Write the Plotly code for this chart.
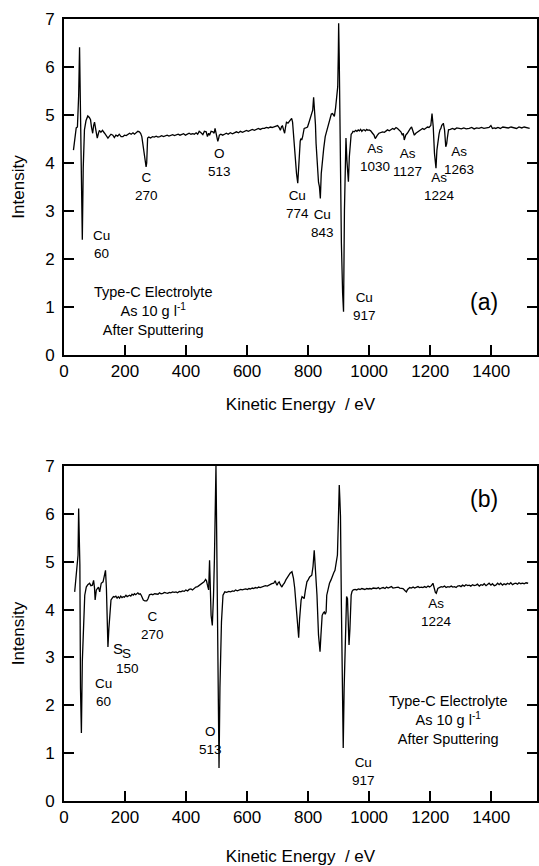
import plotly.graph_objects as go

# ---------------- data ----------------
energy_a = [31, 36, 40, 44, 48, 51, 54, 57, 60, 63, 67, 72, 78, 83, 87, 90, 94, 97, 100, 104, 109, 113, 116, 121, 126, 133, 138, 144, 149, 154, 160, 165, 170, 176, 181, 187, 193, 198, 204, 209, 215, 220, 226, 231, 237, 242, 247, 251, 255, 258, 261, 265, 269, 271, 274, 278, 284, 290, 296, 302, 308, 314, 320, 326, 332, 338, 344, 350, 356, 362, 368, 374, 380, 386, 392, 398, 404, 410, 416, 422, 427, 433, 438, 443, 449, 455, 460, 466, 470, 474, 477, 482, 488, 492, 495, 498, 500, 504, 507, 509, 514, 520, 526, 532, 538, 545, 552, 558, 565, 572, 578, 585, 591, 598, 604, 611, 617, 624, 630, 637, 643, 650, 657, 663, 670, 676, 682, 689, 695, 700, 705, 709, 713, 716, 720, 723, 726, 729, 734, 738, 742, 746, 749, 752, 755, 758, 762, 766, 769, 771, 774, 776, 779, 782, 787, 792, 798, 803, 809, 815, 818, 820, 822, 824, 826, 831, 834, 837, 840, 843, 847, 851, 856, 860, 864, 868, 872, 876, 880, 883, 886, 890, 893, 897, 899, 900, 902, 905, 909, 913, 916, 919, 922, 924, 927, 930, 932, 935, 938, 941, 944, 947, 951, 956, 960, 964, 968, 972, 976, 980, 984, 988, 992, 996, 1000, 1005, 1011, 1016, 1020, 1024, 1027, 1032, 1038, 1044, 1050, 1055, 1060, 1066, 1072, 1077, 1082, 1088, 1093, 1099, 1104, 1109, 1112, 1115, 1118, 1120, 1125, 1131, 1135, 1139, 1143, 1148, 1153, 1159, 1164, 1170, 1175, 1180, 1186, 1191, 1196, 1202, 1206, 1210, 1214, 1217, 1219, 1222, 1226, 1229, 1232, 1235, 1238, 1241, 1243, 1247, 1251, 1254, 1256, 1260, 1266, 1273, 1280, 1287, 1295, 1302, 1310, 1318, 1328, 1336, 1344, 1352, 1360, 1368, 1376, 1384, 1393, 1399, 1404, 1410, 1415, 1422, 1430, 1438, 1448, 1456, 1465, 1475, 1483, 1491, 1500, 1508, 1516, 1526]
intensity_a = [4.27, 4.55, 4.73, 4.75, 5.4, 6.41, 4.6, 3.2, 2.4, 3.9, 4.69, 4.88, 4.98, 4.95, 4.9, 4.75, 4.62, 4.78, 4.85, 4.7, 4.52, 4.62, 4.68, 4.64, 4.68, 4.62, 4.58, 4.52, 4.56, 4.6, 4.58, 4.53, 4.58, 4.56, 4.6, 4.55, 4.55, 4.58, 4.57, 4.6, 4.62, 4.6, 4.63, 4.6, 4.64, 4.66, 4.65, 4.62, 4.55, 4.4, 4.2, 4.05, 3.92, 4.0, 4.52, 4.54, 4.52, 4.55, 4.54, 4.56, 4.54, 4.55, 4.57, 4.55, 4.56, 4.58, 4.56, 4.57, 4.59, 4.57, 4.58, 4.6, 4.58, 4.59, 4.61, 4.58, 4.6, 4.62, 4.6, 4.61, 4.6, 4.63, 4.6, 4.66, 4.63, 4.59, 4.66, 4.65, 4.55, 4.62, 4.58, 4.66, 4.65, 4.62, 4.72, 4.6, 4.52, 4.45, 4.52, 4.58, 4.6, 4.58, 4.6, 4.62, 4.6, 4.63, 4.61, 4.63, 4.65, 4.63, 4.66, 4.64, 4.66, 4.68, 4.66, 4.68, 4.7, 4.68, 4.7, 4.72, 4.7, 4.72, 4.72, 4.74, 4.73, 4.75, 4.74, 4.75, 4.77, 4.78, 4.74, 4.68, 4.76, 4.77, 4.68, 4.62, 4.75, 4.85, 4.83, 4.87, 4.9, 4.93, 4.85, 4.6, 4.41, 4.0, 3.78, 3.58, 3.9, 4.27, 4.45, 4.51, 4.48, 4.55, 4.72, 4.73, 4.75, 4.85, 4.97, 5.1, 5.37, 5.2, 5.1, 4.8, 4.41, 3.72, 3.6, 3.51, 3.26, 3.78, 4.13, 4.3, 4.55, 4.65, 4.75, 4.85, 4.98, 5.02, 5.03, 5.0, 4.97, 5.15, 5.31, 5.59, 6.3, 6.91, 6.15, 4.41, 2.33, 1.29, 0.9, 3.02, 4.41, 4.52, 4.06, 3.8, 3.61, 4.13, 4.51, 4.6, 4.62, 4.66, 4.65, 4.68, 4.66, 4.69, 4.67, 4.7, 4.66, 4.69, 4.69, 4.67, 4.7, 4.68, 4.69, 4.67, 4.62, 4.58, 4.51, 4.56, 4.58, 4.62, 4.63, 4.65, 4.64, 4.67, 4.69, 4.67, 4.7, 4.72, 4.7, 4.74, 4.72, 4.69, 4.65, 4.58, 4.62, 4.48, 4.55, 4.58, 4.62, 4.69, 4.72, 4.75, 4.66, 4.58, 4.62, 4.65, 4.68, 4.7, 4.72, 4.7, 4.73, 4.75, 4.74, 4.78, 5.03, 4.75, 4.2, 3.95, 3.89, 4.27, 4.55, 4.6, 4.69, 4.72, 4.79, 4.8, 4.83, 4.69, 4.34, 4.4, 4.51, 4.69, 4.7, 4.72, 4.7, 4.73, 4.72, 4.71, 4.73, 4.71, 4.72, 4.74, 4.71, 4.73, 4.72, 4.74, 4.72, 4.73, 4.74, 4.78, 4.72, 4.73, 4.72, 4.74, 4.72, 4.75, 4.74, 4.73, 4.75, 4.74, 4.72, 4.75, 4.73, 4.75, 4.73, 4.72]

energy_b = [35, 40, 44, 46, 48, 50, 52, 54, 57, 60, 64, 68, 73, 78, 84, 88, 93, 97, 100, 102, 106, 110, 113, 117, 122, 128, 133, 136, 139, 141, 144, 147, 151, 154, 158, 162, 166, 170, 174, 178, 182, 186, 190, 194, 198, 203, 207, 211, 215, 219, 223, 227, 231, 235, 239, 242, 246, 250, 253, 257, 260, 265, 271, 275, 280, 286, 291, 297, 302, 308, 313, 318, 324, 329, 334, 340, 345, 350, 356, 361, 367, 372, 378, 383, 388, 394, 399, 405, 410, 416, 421, 427, 432, 438, 443, 449, 454, 459, 464, 467, 470, 474, 477, 479, 482, 486, 488, 490, 493, 495, 497, 498, 499, 501, 504, 506, 508, 511, 513, 516, 521, 527, 533, 540, 546, 552, 557, 562, 568, 573, 579, 584, 590, 595, 601, 606, 611, 617, 622, 627, 633, 638, 643, 649, 655, 660, 666, 671, 676, 681, 687, 692, 695, 698, 702, 705, 709, 714, 718, 722, 727, 732, 736, 741, 747, 752, 756, 760, 765, 769, 772, 774, 777, 780, 784, 787, 791, 796, 800, 805, 812, 816, 820, 822, 824, 827, 829, 834, 837, 839, 842, 846, 850, 853, 856, 859, 861, 866, 870, 875, 880, 884, 888, 892, 896, 899, 902, 904, 906, 909, 912, 915, 918, 922, 926, 929, 932, 934, 937, 941, 944, 948, 954, 959, 965, 970, 976, 981, 986, 992, 997, 1002, 1008, 1013, 1019, 1024, 1030, 1035, 1040, 1046, 1052, 1057, 1062, 1067, 1073, 1078, 1084, 1089, 1095, 1100, 1106, 1111, 1117, 1122, 1126, 1133, 1138, 1144, 1149, 1154, 1160, 1165, 1171, 1176, 1182, 1187, 1193, 1198, 1204, 1209, 1212, 1214, 1217, 1220, 1223, 1225, 1230, 1236, 1241, 1247, 1252, 1258, 1263, 1269, 1274, 1280, 1285, 1290, 1296, 1301, 1306, 1312, 1317, 1323, 1328, 1333, 1339, 1344, 1350, 1355, 1361, 1366, 1372, 1377, 1383, 1388, 1393, 1399, 1404, 1410, 1415, 1421, 1426, 1431, 1437, 1442, 1448, 1453, 1459, 1464, 1470, 1475, 1481, 1486, 1491, 1497, 1502, 1508, 1514, 1521]
intensity_b = [4.37, 4.72, 5.0, 5.14, 6.11, 5.5, 4.93, 2.36, 1.42, 2.91, 3.74, 4.3, 4.47, 4.52, 4.55, 4.5, 4.51, 4.61, 4.45, 4.2, 4.41, 4.45, 4.47, 4.37, 4.55, 4.58, 4.79, 4.82, 4.44, 3.88, 3.22, 3.6, 4.03, 4.2, 4.24, 4.27, 4.26, 4.28, 4.24, 4.27, 4.24, 4.28, 4.25, 4.27, 4.26, 4.3, 4.27, 4.29, 4.3, 4.28, 4.32, 4.3, 4.33, 4.31, 4.34, 4.35, 4.32, 4.33, 4.3, 4.25, 4.2, 4.18, 4.18, 4.22, 4.31, 4.32, 4.31, 4.33, 4.33, 4.32, 4.35, 4.33, 4.34, 4.36, 4.35, 4.34, 4.36, 4.35, 4.37, 4.36, 4.37, 4.35, 4.38, 4.37, 4.39, 4.38, 4.41, 4.39, 4.42, 4.43, 4.41, 4.45, 4.47, 4.48, 4.5, 4.53, 4.55, 4.58, 4.63, 4.6, 4.51, 4.41, 5.03, 4.44, 3.88, 3.67, 3.9, 4.3, 5.07, 5.7, 6.6, 7.0, 6.4, 5.2, 3.05, 2.07, 0.69, 2.36, 3.0, 3.74, 4.3, 4.37, 4.36, 4.38, 4.37, 4.39, 4.38, 4.41, 4.39, 4.4, 4.42, 4.41, 4.42, 4.43, 4.42, 4.44, 4.43, 4.45, 4.44, 4.46, 4.45, 4.47, 4.46, 4.47, 4.48, 4.5, 4.49, 4.51, 4.52, 4.54, 4.55, 4.6, 4.55, 4.51, 4.56, 4.58, 4.52, 4.47, 4.52, 4.55, 4.62, 4.68, 4.72, 4.76, 4.79, 4.65, 4.45, 4.15, 3.61, 3.41, 3.8, 4.09, 4.2, 4.27, 4.25, 4.23, 4.4, 4.58, 4.62, 4.68, 4.72, 4.9, 5.24, 5.05, 5.0, 4.6, 4.3, 3.47, 3.3, 3.12, 3.47, 3.88, 3.93, 3.95, 3.9, 3.95, 4.3, 4.45, 4.55, 4.62, 4.72, 4.77, 4.82, 4.95, 5.14, 5.83, 6.6, 6.3, 5.95, 4.09, 2.36, 1.11, 2.36, 3.47, 4.27, 4.23, 3.7, 3.26, 3.6, 4.3, 4.38, 4.41, 4.42, 4.41, 4.43, 4.42, 4.44, 4.43, 4.42, 4.44, 4.43, 4.44, 4.43, 4.45, 4.44, 4.44, 4.46, 4.43, 4.45, 4.46, 4.44, 4.47, 4.45, 4.46, 4.48, 4.45, 4.46, 4.46, 4.47, 4.45, 4.44, 4.44, 4.4, 4.37, 4.42, 4.46, 4.45, 4.47, 4.45, 4.46, 4.48, 4.46, 4.47, 4.46, 4.48, 4.46, 4.49, 4.47, 4.5, 4.55, 4.48, 4.41, 4.36, 4.34, 4.4, 4.44, 4.46, 4.48, 4.47, 4.49, 4.46, 4.48, 4.47, 4.49, 4.47, 4.48, 4.46, 4.49, 4.5, 4.48, 4.51, 4.49, 4.52, 4.5, 4.51, 4.49, 4.52, 4.5, 4.51, 4.53, 4.49, 4.52, 4.51, 4.54, 4.5, 4.53, 4.55, 4.51, 4.54, 4.5, 4.51, 4.55, 4.52, 4.55, 4.51, 4.54, 4.52, 4.55, 4.53, 4.56, 4.52, 4.54, 4.55, 4.53, 4.56, 4.54, 4.55, 4.54, 4.56, 4.55]

# peak labels: (text, energy, intensity)
labels_a = [("Cu<br>60", 122, 2.30), ("C<br>270", 269, 3.52), ("O<br>513", 511, 4.01),
            ("Cu<br>774", 766, 3.13), ("Cu<br>843", 847, 2.74), ("Cu<br>917", 984, 1.02),
            ("As<br>1030", 1020, 4.12), ("As<br>1127", 1126, 4.02), ("As<br>1224", 1230, 3.52),
            ("As<br>1263", 1295, 4.05)]
labels_b = [("Cu<br>60", 128, 2.27), ("C<br>270", 291, 3.66), ("150", 209, 2.77),
            ("O<br>513", 481, 1.27), ("As<br>1224", 1220, 3.94), ("Cu<br>917", 983, 0.61)]
sample_text = "Type-C Electrolyte<br>As 10 g l<sup>-1</sup><br>After Sputtering"

FONT = "Liberation Sans, Arial, sans-serif"


def x_axis(standoff):
    return dict(range=[0, 1550], tick0=0, dtick=200, ticks="inside", ticklen=10,
                tickwidth=1.5, tickcolor="black", showline=True, linewidth=2,
                linecolor="black", mirror=True, showgrid=False, zeroline=False,
                automargin=False,
                tickfont=dict(family=FONT, size=17, color="black"),
                title=dict(text="Kinetic Energy\u00a0 / eV",
                           font=dict(family=FONT, size=17, color="black"),
                           standoff=standoff))


def y_axis():
    return dict(range=[0, 7], tick0=0, dtick=1, ticks="inside", ticklen=10,
                tickwidth=1.5, tickcolor="black", showline=True, linewidth=2,
                linecolor="black", mirror="ticks", showgrid=False, zeroline=False,
                automargin=False,
                tickfont=dict(family=FONT, size=17, color="black"),
                ticklabelstandoff=4,
                title=dict(text="Intensity",
                           font=dict(family=FONT, size=17, color="black"), standoff=16))


fig = go.Figure()
fig.add_trace(go.Scatter(x=energy_a, y=intensity_a, mode="lines",
                         line=dict(color="black", width=1.3), xaxis="x", yaxis="y",
                         showlegend=False))
fig.add_trace(go.Scatter(x=energy_b, y=intensity_b, mode="lines",
                         line=dict(color="black", width=1.3), xaxis="x2", yaxis="y2",
                         showlegend=False))

fig.update_layout(
    width=539, height=866,
    margin=dict(l=64, r=2, t=19, b=65),
    paper_bgcolor="white", plot_bgcolor="white",
    xaxis=dict(domain=[0, 1], anchor="y", **x_axis(18)),
    yaxis=dict(domain=[0.5703, 1], anchor="x", **y_axis()),
    xaxis2=dict(domain=[0, 1], anchor="y2", **x_axis(25)),
    yaxis2=dict(domain=[0, 0.4284], anchor="x2", **y_axis()),
)

ann = []
for txt, xv, yv in labels_a:
    ann.append(dict(text=txt, x=xv, y=yv, xref="x", yref="y", showarrow=False,
                    font=dict(family=FONT, size=13.5, color="black")))
for txt, xv, yv in labels_b:
    ann.append(dict(text=txt, x=xv, y=yv, xref="x2", yref="y2", showarrow=False,
                    font=dict(family=FONT, size=13.5, color="black")))
ann.append(dict(text="S", x=177, y=3.19, xref="x2", yref="y2", showarrow=False,
                font=dict(family=FONT, size=15, color="black")))
ann.append(dict(text="S", x=206, y=3.09, xref="x2", yref="y2", showarrow=False,
                font=dict(family=FONT, size=13.5, color="black")))
ann.append(dict(text=sample_text, x=291, y=0.92, xref="x", yref="y", showarrow=False,
                font=dict(family=FONT, size=14.5, color="black")))
ann.append(dict(text=sample_text, x=1257, y=1.69, xref="x2", yref="y2", showarrow=False,
                font=dict(family=FONT, size=14.5, color="black")))
ann.append(dict(text="(a)", x=1377, y=1.11, xref="x", yref="y", showarrow=False,
                font=dict(family=FONT, size=23, color="black")))
ann.append(dict(text="(b)", x=1377, y=6.32, xref="x2", yref="y2", showarrow=False,
                font=dict(family=FONT, size=23, color="black")))
fig.update_layout(annotations=ann)

fig.write_html("out.html")
